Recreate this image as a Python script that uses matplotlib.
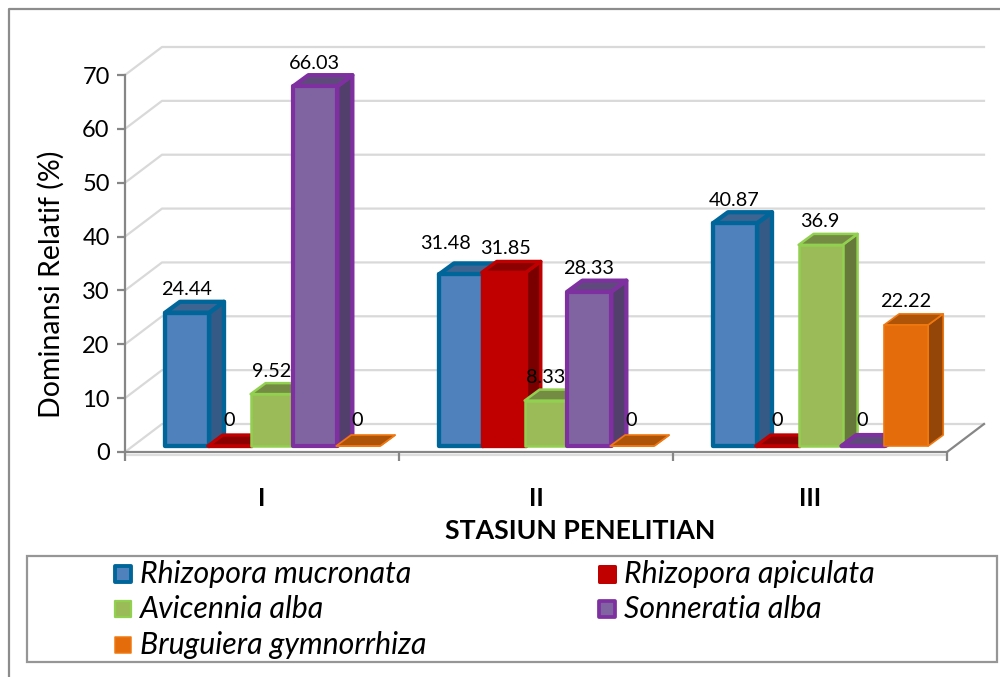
import numpy as np
import matplotlib.pyplot as plt
from matplotlib.patches import Polygon, Rectangle

plt.rcParams['font.family'] = ['Lato', 'DejaVu Sans']

stasiun = ['I', 'II', 'III']
spesies = ['Rhizopora mucronata', 'Rhizopora apiculata', 'Avicennia alba',
           'Sonneratia alba', 'Bruguiera gymnorrhiza']
mucronata = [24.44, 31.48, 40.87]
apiculata = [0, 31.85, 0]
avicennia = [9.52, 8.33, 36.9]
sonneratia = [66.03, 28.33, 0]
bruguiera = [0, 0, 22.22]
nilai = [mucronata, apiculata, avicennia, sonneratia, bruguiera]

warna_muka = ['#4F81BD', '#C00000', '#9BBB59', '#8064A2', '#E46C0A']
warna_tepi = ['#00669A', '#C00000', '#92D050', '#7F30A0', '#F07810']
warna_atas = ['#3E6491', '#8B0000', '#748B43', '#5F4B7B', '#AD5408']
warna_sisi = ['#355A85', '#7A0000', '#66783A', '#533F6B', '#934607']
tebal_tepi = [3.1, 2.4, 1.8, 3.0, 1.2]

W, H = 1000, 677
PX = 274.0       # pixel per kategori
PY = 5.386       # pixel per satuan y
SKALA = 1.012    # bidang depan batang sedikit lebih besar dari sumbu

fig = plt.figure(figsize=(W / 100, H / 100), dpi=100)

# bingkai dan legenda, dalam koordinat pixel
bg = fig.add_axes([0, 0, 1, 1])
bg.set_xlim(0, W)
bg.set_ylim(H, 0)
bg.axis('off')
bg.plot([8.5, 8.5, W], [H, 8.5, 8.5], color='#8C8C8C', lw=1.6)
bg.add_patch(Rectangle((27, 556), 970, 106, fc='white', ec='#969696', lw=1.6))

leg_x = [113, 597, 113, 597, 113]
leg_y = [574, 574, 609, 609, 645]
for i, nama in enumerate(spesies):
    bg.add_patch(Rectangle((leg_x[i] + 2, leg_y[i] - 8), 16, 16, fc=warna_muka[i],
                           ec=warna_tepi[i], lw=tebal_tepi[i] * 0.9, joinstyle='round'))
    bg.text(leg_x[i] + 27, leg_y[i], nama, fontsize=21.8, style='italic',
            va='center', ha='left', color='black')
bg.text(580, 531, 'STASIUN PENELITIAN', fontsize=19.2, fontweight='bold', ha='center', va='center')

# sumbu utama
ax = fig.add_axes([125 / W, 1 - 452 / H, 822 / W, 377 / H])
ax.patch.set_alpha(0)
ax.set_xlim(-0.5, 2.5)
ax.set_ylim(0, 70)
for s in ['top', 'right']:
    ax.spines[s].set_visible(False)
for s in ['left', 'bottom']:
    ax.spines[s].set_color('#868686')
    ax.spines[s].set_linewidth(1.6)
ax.set_yticks(range(0, 71, 10))
ax.set_xticks([-0.5, 0.5, 1.5, 2.5])
ax.set_xticklabels([])
ax.set_xticks([0, 1, 2], minor=True)
ax.set_xticklabels(stasiun, minor=True, fontsize=18, fontweight='bold')
ax.tick_params(axis='x', which='minor', length=0, pad=25)
ax.tick_params(axis='x', which='major', length=6.5, width=1.6, color='#868686')
ax.tick_params(axis='y', length=6, width=1.6, color='#868686', labelsize=17, pad=5)
ax.set_ylabel('Dominansi Relatif (%)', fontsize=20.5)
ax.yaxis.set_label_coords(-60 / 822, 0.446)

# dinding belakang dan garis kisi
dx_wall = 37 / PX
dy_wall = 28 / PY
for v in range(0, 71, 10):
    ax.plot([-0.5, -0.5 + dx_wall, 2.5 + dx_wall], [v, v + dy_wall, v + dy_wall],
            color='#D9D9D9', lw=1.6, clip_on=False, zorder=1)
ax.plot([-0.5, 2.5], [-0.55, -0.55], color='#DDDDDD', lw=1.6, clip_on=False, zorder=1)
ax.plot([2.5, 2.5 + dx_wall], [0, dy_wall], color='#868686', lw=1.6, clip_on=False, zorder=2)

# batang 3D
lebar = 44 / PX
jarak = 42.8 / PX
awal = -97 / PX
dx = 15 / PX
dy = 11 / PY
dasar = 6 / PY

z = 3
for k in range(len(stasiun)):
    for i in range(len(spesies)):
        v = nilai[i][k]
        x0 = k + awal + i * jarak
        x1 = x0 + lebar
        y0 = dasar
        y1 = dasar + v * SKALA
        sisi = [(x1, y0), (x1 + dx, y0 + dy), (x1 + dx, y1 + dy), (x1, y1)]
        atas = [(x0, y1), (x0 + dx, y1 + dy), (x1 + dx, y1 + dy), (x1, y1)]
        muka = [(x0, y0), (x1, y0), (x1, y1), (x0, y1)]
        for poly, warna in [(sisi, warna_sisi[i]), (atas, warna_atas[i]), (muka, warna_muka[i])]:
            ax.add_patch(Polygon(poly, closed=True, fc=warna, ec=warna_tepi[i],
                                 lw=tebal_tepi[i], joinstyle='round', clip_on=False, zorder=z))
            z += 1

# label nilai; dua label di stasiun II digeser supaya tidak bertumpuk
geser = {(0, 1): (-14, 8), (1, 1): (3, 1)}
for k in range(len(stasiun)):
    for i in range(len(spesies)):
        v = nilai[i][k]
        gx, gy = geser.get((i, k), (0, 0))
        naik = 15 if v == 0 else 12
        x = k + awal + i * jarak + lebar / 2 + (gx - 1) / PX
        y = dasar + v * SKALA + dy + (naik + gy) / PY
        ax.text(x, y, str(v), fontsize=14.3, ha='center', va='center',
                color='black', zorder=500, clip_on=False)

fig.savefig('out.png', dpi=100)
